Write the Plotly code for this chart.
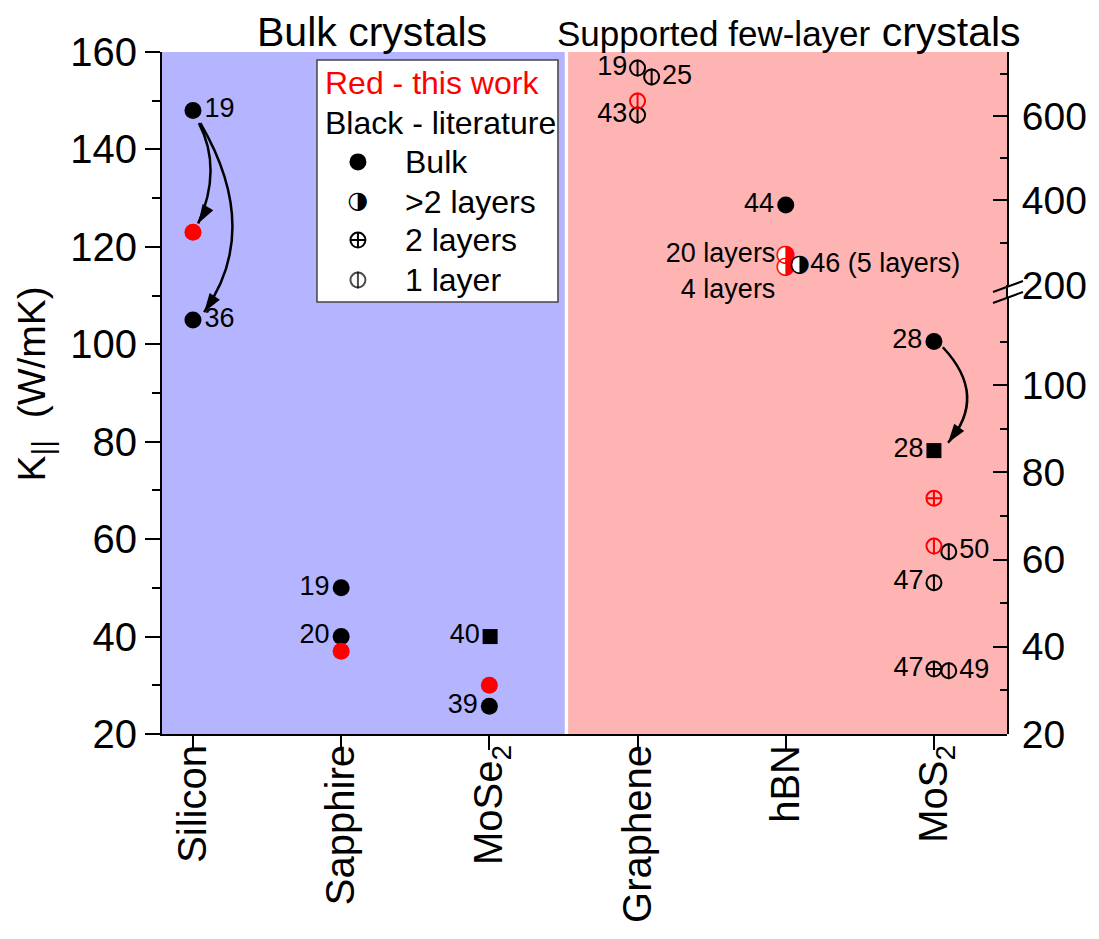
import plotly.graph_objects as go

# ---------------- data ----------------
categories = ["Silicon", "Sapphire", "MoSe2", "Graphene", "hBN", "MoS2"]
category_labels = ["Silicon", "Sapphire", "MoSe<sub>2</sub>", "Graphene", "hBN", "MoS<sub>2</sub>"]

# Bulk crystals (left axis, W/mK) - literature, filled circles
lit_bulk_cat = ["Silicon", "Silicon", "Sapphire", "Sapphire", "MoSe2"]
lit_bulk_val = [148, 105, 50, 40, 25.7]
lit_bulk_ref = ["19", "36", "19", "20", "39"]

# Bulk crystals - literature, squares
lit_bulk_sq_cat = ["MoSe2"]
lit_bulk_sq_val = [40]
lit_bulk_sq_ref = ["40"]

# Bulk crystals - this work (red)
red_bulk_cat = ["Silicon", "Sapphire", "MoSe2"]
red_bulk_val = [123, 37, 30]

# Supported few-layer crystals (right, broken axis) - literature
fl_bulk_cat = ["hBN", "MoS2"]
fl_bulk_val = [389, 110]
fl_bulk_ref = ["44", "28"]

fl_sq_cat = ["MoS2"]
fl_sq_val = [85]
fl_sq_ref = ["28"]

fl_1l_cat = ["Graphene", "Graphene", "Graphene", "MoS2", "MoS2", "MoS2"]
fl_1l_val = [713, 692, 602, 61.8, 54.7, 34.5]
fl_1l_ref = ["19", "25", "43", "50", "47", "49"]

fl_2l_cat = ["MoS2"]
fl_2l_val = [34.9]
fl_2l_ref = ["47"]

fl_gt2_cat = ["hBN"]
fl_gt2_val = [247]
fl_gt2_ref = ["46 (5 layers)"]

# Supported few-layer crystals - this work (red)
red_1l_cat = ["Graphene", "MoS2"]
red_1l_val = [635, 63.1]

red_2l_cat = ["MoS2"]
red_2l_val = [74.1]

red_gt2_cat = ["hBN", "hBN"]
red_gt2_val = [271, 242]
red_gt2_lab = ["20 layers", "4 layers"]

# ---------------- placement / style (not data) ----------------
lit_bulk_pos = ["middle right", "middle right", "middle left", "middle left", "middle left"]
lit_bulk_shift = [0, 0, 0, 0, 0]
lit_bulk_sq_shift = [0.005]
fl_1l_shift = [0, 0.095, 0, 0.1, 0, 0.1]
fl_1l_pos = ["middle left", "middle right", "middle left", "middle right", "middle left", "middle right"]
fl_gt2_shift = [0.095]
red_gt2_pos = ["middle left", "bottom left"]

BLACK = "black"
RED = "#FF0000"
FONT = "Liberation Sans, Arial, sans-serif"
LABEL_SIZE = 27
TICK_SIZE = 40
BREAK_AT = 160  # right-axis values above this are on the upper segment
GLYPH_SIZE = 24

X_RANGE = [0.791, 6.493]


def xpos(cats, shifts=None):
    shifts = shifts or [0] * len(cats)
    return [categories.index(c) + 1 + s for c, s in zip(cats, shifts)]


fig = go.Figure()


def split_groups(vals, side):
    if side == "left":
        return [("y", list(range(len(vals))))]
    groups = []
    lo = [i for i, v in enumerate(vals) if v < BREAK_AT]
    hi = [i for i, v in enumerate(vals) if v >= BREAK_AT]
    if lo:
        groups.append(("y2", lo))
    if hi:
        groups.append(("y3", hi))
    return groups


def add_points(cats, vals, side, symbol, color, size, fill=None, text=None,
               pos=None, shifts=None, line_w=2):
    xs = xpos(cats, shifts)
    for yax, idx in split_groups(vals, side):
        tr = dict(
            x=[xs[i] for i in idx], y=[vals[i] for i in idx],
            xaxis="x", yaxis=yax, hoverinfo="skip", cliponaxis=False,
            marker=dict(symbol=symbol, size=size,
                        color=fill if fill is not None else color,
                        line=dict(color=color, width=line_w)),
            mode="markers",
        )
        if text is not None:
            tr["mode"] = "markers+text"
            tr["text"] = [text[i] for i in idx]
            tr["textposition"] = [pos[i] for i in idx]
            tr["textfont"] = dict(size=LABEL_SIZE, color=BLACK, family=FONT)
        fig.add_trace(go.Scatter(**tr))


def add_glyph(cats, vals, side, glyph, color, shifts=None):
    xs = xpos(cats, shifts)
    for yax, idx in split_groups(vals, side):
        fig.add_trace(go.Scatter(
            x=[xs[i] for i in idx], y=[vals[i] for i in idx],
            xaxis="x", yaxis=yax, mode="text", text=[glyph] * len(idx),
            textposition="middle center", hoverinfo="skip", cliponaxis=False,
            textfont=dict(size=GLYPH_SIZE, color=color, family="DejaVu Sans")))


def add_phi(cats, vals, side, color, text=None, pos=None, shifts=None):
    add_points(cats, vals, side, "circle-open", color, 15, text=text, pos=pos, shifts=shifts)
    add_points(cats, vals, side, "line-ns-open", color, 12, shifts=shifts)


def add_half(cats, vals, side, color, text=None, pos=None, shifts=None):
    add_points(cats, vals, side, "circle", "white", 15, fill="white", text=text,
               pos=pos, shifts=shifts, line_w=0)
    add_glyph(cats, vals, side, "\u25D1", color, shifts=shifts)


# ---- bulk crystals ----
add_points(lit_bulk_cat, lit_bulk_val, "left", "circle", BLACK, 17, text=lit_bulk_ref,
           pos=lit_bulk_pos, shifts=lit_bulk_shift, line_w=0)
add_points(lit_bulk_sq_cat, lit_bulk_sq_val, "left", "square", BLACK, 15, text=lit_bulk_sq_ref,
           pos=["middle left"], shifts=lit_bulk_sq_shift, line_w=0)
add_points(red_bulk_cat, red_bulk_val, "left", "circle", RED, 17, line_w=0)

# ---- few-layer crystals ----
add_points(fl_bulk_cat, fl_bulk_val, "right", "circle", BLACK, 17, text=fl_bulk_ref,
           pos=["middle left"] * len(fl_bulk_val), line_w=0)
add_points(fl_sq_cat, fl_sq_val, "right", "square", BLACK, 15, text=fl_sq_ref,
           pos=["middle left"], line_w=0)
add_phi(fl_1l_cat, fl_1l_val, "right", BLACK, text=fl_1l_ref, pos=fl_1l_pos, shifts=fl_1l_shift)
add_points(fl_2l_cat, fl_2l_val, "right", "circle-cross-open", BLACK, 15, text=fl_2l_ref,
           pos=["middle left"])
add_half(red_gt2_cat, red_gt2_val, "right", RED, text=red_gt2_lab, pos=red_gt2_pos)
add_half(fl_gt2_cat, fl_gt2_val, "right", BLACK, text=fl_gt2_ref, pos=["middle right"],
         shifts=fl_gt2_shift)
add_phi(red_1l_cat, red_1l_val, "right", RED)
add_points(red_2l_cat, red_2l_val, "right", "circle-cross-open", RED, 15)

# ---- curved arrows (built from the data points they join) ----
x_si = categories.index("Silicon") + 1
x_mos2 = categories.index("MoS2") + 1
si_19, si_36 = lit_bulk_val[0], lit_bulk_val[1]
si_red = red_bulk_val[0]
mos2_bulk = fl_bulk_val[1]
mos2_sq = fl_sq_val[0]

arrows = [
    # (start, control, tip, yref, angle)
    ((x_si + 0.04, si_19 - 2.6), (x_si + 0.2, (si_19 + si_red) / 2 + 0.5), (x_si + 0.035, si_red + 1.8), "y", 211),
    ((x_si + 0.05, si_19 - 2.6), (x_si + 0.47, (si_19 + si_36) / 2 - 3.0), (x_si + 0.075, si_36 + 1.6), "y", 214),
    ((x_mos2 + 0.06, mos2_bulk - 1.3), (x_mos2 + 0.37, (mos2_bulk + mos2_sq) / 2), (x_mos2 + 0.095, mos2_sq + 1.8), "y2", 216),
]
shapes = []

# background panels
xmid = 3.52
frac = lambda v: (v - X_RANGE[0]) / (X_RANGE[1] - X_RANGE[0])
shapes.append(dict(type="rect", xref="paper", yref="paper", x0=0, x1=frac(xmid) - 0.002,
                   y0=0, y1=1, fillcolor="#B4B4FF", line=dict(width=0), layer="below"))
shapes.append(dict(type="rect", xref="paper", yref="paper", x0=frac(xmid) + 0.002, x1=1,
                   y0=0, y1=1, fillcolor="#FFB4B4", line=dict(width=0), layer="below"))
# legend box
LEG = dict(x0=0.1834, x1=0.4686, y0=0.6334, y1=0.9883)
shapes.append(dict(type="rect", xref="paper", yref="paper", **LEG, fillcolor="white",
                   line=dict(color="#444", width=1.5), layer="below"))

for (p0, c, p2, yref, ang) in arrows:
    path = f"M{p0[0]},{p0[1]} Q{c[0]},{c[1]} {p2[0]},{p2[1]}"
    shapes.append(dict(type="path", path=path, xref="x", yref=yref,
                       line=dict(color=BLACK, width=2.5), layer="above"))
    fig.add_trace(go.Scatter(x=[p2[0]], y=[p2[1]], xaxis="x", yaxis=yref, mode="markers",
                             hoverinfo="skip", cliponaxis=False,
                             marker=dict(symbol="arrow", size=20, angle=ang, color=BLACK,
                                         line=dict(width=0))))

# axis break marks on the right axis
Y2_TOP = 0.6393
Y3_BOT = 0.6584
shapes.append(dict(type="line", xref="paper", yref="paper", x0=1, x1=1, y0=Y2_TOP, y1=Y3_BOT,
                   line=dict(color=BLACK, width=2)))
shapes.append(dict(type="line", xref="paper", yref="paper", x0=0.9834, x1=1.0189,
                   y0=0.6481, y1=0.6642, line=dict(color=BLACK, width=2)))
shapes.append(dict(type="line", xref="paper", yref="paper", x0=0.9834, x1=1.0189,
                   y0=0.632, y1=0.6481, line=dict(color=BLACK, width=2)))

# ---- manual legend ----
leg_keys_y = [0.579, 0.413, 0.256, 0.091]
leg_kx = 0.17
fig.add_trace(go.Scatter(x=[leg_kx], y=[leg_keys_y[0]], xaxis="x2", yaxis="y4", mode="markers",
                         hoverinfo="skip", marker=dict(symbol="circle", size=17, color=BLACK)))
fig.add_trace(go.Scatter(x=[leg_kx], y=[leg_keys_y[1]], xaxis="x2", yaxis="y4", mode="text",
                         text=["\u25D1"], textposition="middle center", hoverinfo="skip",
                         textfont=dict(size=GLYPH_SIZE, color=BLACK, family="DejaVu Sans")))
fig.add_trace(go.Scatter(x=[leg_kx], y=[leg_keys_y[2]], xaxis="x2", yaxis="y4", mode="markers",
                         hoverinfo="skip",
                         marker=dict(symbol="circle-cross-open", size=15, color=BLACK,
                                     line=dict(width=2, color=BLACK))))
fig.add_trace(go.Scatter(x=[leg_kx, leg_kx], y=[leg_keys_y[3], leg_keys_y[3]], xaxis="x2", yaxis="y4",
                         mode="markers", hoverinfo="skip",
                         marker=dict(symbol=["circle-open", "line-ns-open"], size=[15, 12],
                                     color=BLACK, line=dict(width=2, color=BLACK))))

LEG_FONT = 32
annotations = []
annotations.append(dict(text="<span style='color:#FF0000'>Red - this work</span>", xref="paper", yref="paper",
                        x=0.1905, y=0.9545, xanchor="left", yanchor="middle", showarrow=False,
                        font=dict(size=LEG_FONT, family=FONT)))
annotations.append(dict(text="Black - literature", xref="paper", yref="paper",
                        x=0.1905, y=0.8959, xanchor="left", yanchor="middle", showarrow=False,
                        font=dict(size=LEG_FONT, family=FONT, color=BLACK)))
for t, yy in zip(["Bulk", ">2 layers", "2 layers", "1 layer"], [0.8387, 0.78, 0.7243, 0.6657]):
    annotations.append(dict(text=t, xref="paper", yref="paper", x=0.2852, y=yy,
                            xanchor="left", yanchor="middle", showarrow=False,
                            font=dict(size=LEG_FONT, family=FONT, color=BLACK)))

# headings and y title
annotations.append(dict(text="Bulk crystals", xref="paper", yref="paper", x=0.2485, y=1.03,
                        xanchor="center", yanchor="middle", showarrow=False,
                        font=dict(size=41, family=FONT, color=BLACK)))
annotations.append(dict(text="<span style='font-size:35px'>Supported few-layer</span> crystals",
                        xref="paper", yref="paper", x=0.4651, y=1.03,
                        xanchor="left", yanchor="middle", showarrow=False,
                        font=dict(size=41, family=FONT, color=BLACK)))
annotations.append(dict(text="K<sub><span style='font-size:30px'>||</span></sub>\u00a0\u00a0(W/mK)",
                        xref="paper", yref="paper", x=-0.151, y=0.513,
                        xanchor="center", yanchor="middle", textangle=-90, showarrow=False,
                        font=dict(size=39, family=FONT, color=BLACK)))

axis_common = dict(showgrid=False, zeroline=False, showline=True, linecolor=BLACK, linewidth=2,
                   tickcolor=BLACK, tickwidth=2, automargin=False,
                   tickfont=dict(size=TICK_SIZE, family=FONT, color=BLACK))
right_font = dict(size=39, family=FONT, color=BLACK)

# page body has an 8px margin; the plot area is placed so it lands where the reference has it
fig.update_layout(
    width=1083, height=923,
    margin=dict(l=154, r=84, t=44, b=197),
    paper_bgcolor="white", plot_bgcolor="rgba(0,0,0,0)",
    showlegend=False,
    font=dict(family=FONT, color=BLACK),
    xaxis=dict(range=X_RANGE, tickmode="array", tickvals=[1, 2, 3, 4, 5, 6], ticktext=category_labels,
               tickangle=-90, ticks="outside", ticklen=14, anchor="y", ticklabelstandoff=-21,
               **axis_common),
    yaxis=dict(range=[20, 160], domain=[0, 1], tickmode="array", tickvals=[20, 40, 60, 80, 100, 120, 140, 160],
               ticks="outside", ticklen=15, ticklabelstandoff=0,
               minor=dict(tickmode="array", tickvals=[30, 50, 70, 90, 110, 130, 150], ticks="outside",
                          ticklen=8, tickwidth=2, tickcolor=BLACK),
               anchor="x", **axis_common),
    yaxis2=dict(range=[20, 120], domain=[0, Y2_TOP], side="right", anchor="x",
                tickmode="array", tickvals=[20, 40, 60, 80, 100], ticks="inside", ticklen=14,
                ticklabelstandoff=5,
                minor=dict(tickmode="array", tickvals=[30, 50, 70, 90, 110], ticks="inside",
                           ticklen=7, tickwidth=2, tickcolor=BLACK),
                **{**axis_common, "tickfont": right_font}),
    yaxis3=dict(range=[200, 751], domain=[Y3_BOT, 1], side="right", anchor="x",
                tickmode="array", tickvals=[200, 400, 600], ticks="inside", ticklen=14,
                ticklabelstandoff=5,
                minor=dict(tickmode="array", tickvals=[300, 500, 700], ticks="inside",
                           ticklen=7, tickwidth=2, tickcolor=BLACK),
                **{**axis_common, "tickfont": right_font}),
    xaxis2=dict(domain=[LEG["x0"], LEG["x1"]], range=[0, 1], visible=False, anchor="y4"),
    yaxis4=dict(domain=[LEG["y0"], LEG["y1"]], range=[0, 1], visible=False, anchor="x2"),
    shapes=shapes,
    annotations=annotations,
)

fig.write_html("out.html")
